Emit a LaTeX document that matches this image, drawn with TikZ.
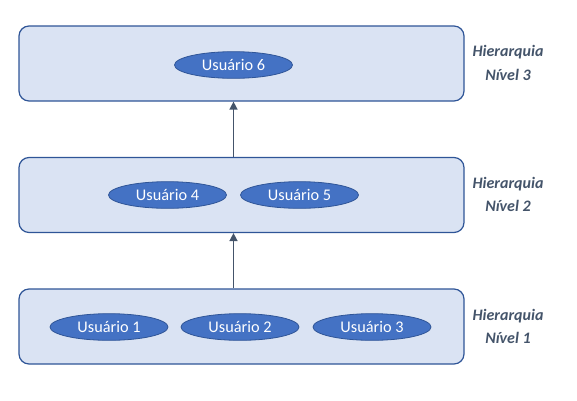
\documentclass[tikz,border=0pt]{standalone}
\usepackage{fontspec}
\setmainfont{Carlito}
\usetikzlibrary{shapes.geometric,arrows.meta}
\definecolor{boxfill}{HTML}{DAE3F3}
\definecolor{boxline}{HTML}{2F5597}
\definecolor{ellfill}{HTML}{4472C4}
\definecolor{ellline}{HTML}{2F5597}
\definecolor{arrowc}{HTML}{44546A}
\definecolor{labc}{HTML}{44546A}
\begin{document}
\begin{tikzpicture}[x=0.75pt,y=-0.75pt,
  levelbox/.style={draw=boxline,fill=boxfill,line width=0.9pt,rounded corners=7.5pt,minimum width=333.75pt,minimum height=56.25pt,inner sep=0pt},
  user/.style={ellipse,draw=ellline,fill=ellfill,line width=0.6pt,minimum width=88.5pt,minimum height=20pt,inner sep=0pt,text=white,font=\fontsize{12.2}{14}\selectfont},
  levlabel/.style={align=center,text=labc,font=\fontsize{12}{17.5}\selectfont\bfseries\itshape},
  uparrow/.style={draw=arrowc,line width=1.1pt,-{Triangle[length=6pt,width=6pt]}}]
\useasboundingbox (0,0) rectangle (577,400);
\node[levelbox] (b3) at (241.5,63.5) {};
\node[levelbox] (b2) at (241.5,195) {};
\node[levelbox] (b1) at (241.5,326.5) {};
\node[user] (u6) at (233.5,65) {Usuário 6};
\node[user] (u4) at (167.5,195) {Usuário 4};
\node[user] (u5) at (299.5,195) {Usuário 5};
\node[user] (u1) at (109,327) {Usuário 1};
\node[user] (u2) at (240,327) {Usuário 2};
\node[user] (u3) at (372,327) {Usuário 3};
\node[levlabel] (l3) at (508,63) {Hierarquia\\Nível 3};
\node[levlabel] (l2) at (508,194.5) {Hierarquia\\Nível 2};
\node[levlabel] (l1) at (508,326.5) {Hierarquia\\Nível 1};
\draw[uparrow] (b2.north -| u6) -- (b3.south -| u6);
\draw[uparrow] (b1.north -| u6) -- (b2.south -| u6);
\end{tikzpicture}
\end{document}
